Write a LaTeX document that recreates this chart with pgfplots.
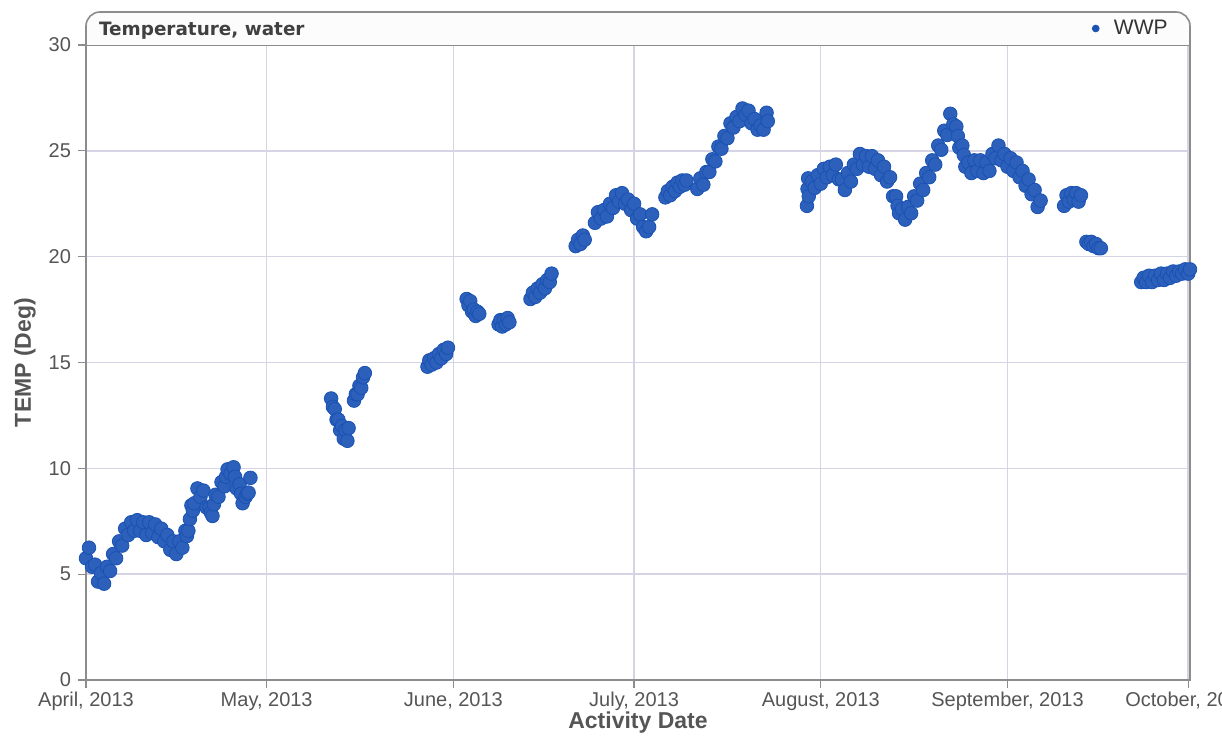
\documentclass[border=0pt]{standalone}
\usepackage{fontspec}
\setmainfont{Liberation Sans}
\newfontfamily\titlefont{DejaVu Sans}
\usepackage{pgfplots}
\pgfplotsset{compat=1.18}
\definecolor{ptblue}{RGB}{26,82,180}
\definecolor{gridc}{RGB}{212,212,228}
\definecolor{axc}{RGB}{140,140,140}
\definecolor{txtc}{RGB}{85,85,85}
\definecolor{hdrc}{RGB}{252,252,252}

\pgfplotstableread{
d T
0.0 5.75
0.5 6.25
1.0 5.35
1.5 5.45
2.0 4.65
2.5 5.05
3.0 4.55
3.5 5.35
4.0 5.15
4.5 5.95
5.0 5.75
5.5 6.55
6.0 6.35
6.5 7.15
7.0 6.85
7.5 7.45
8.0 7.05
8.5 7.55
9.0 7.05
9.5 7.45
10.0 6.85
10.5 7.45
11.0 6.95
11.5 7.35
12.0 6.75
12.5 7.15
13.0 6.55
13.5 6.85
14.0 6.15
14.5 6.55
15.0 5.95
15.5 6.55
16.0 6.25
16.5 7.05
16.75 6.8
17.0 7.05
17.25 7.6
17.5 8.25
17.75 8.0
18.0 8.35
18.5 9.05
19.0 8.65
19.5 8.95
20.0 8.15
20.5 8.15
20.75 7.9
21.0 7.75
21.25 8.3
21.5 8.75
22.0 8.65
22.5 9.35
23.0 9.15
23.25 9.6
23.5 9.95
24.0 9.75
24.5 10.05
24.75 9.6
25.0 9.05
25.5 9.25
25.75 8.8
26.0 8.35
26.5 8.65
26.75 8.8
27.0 8.85
27.3 9.55
40.7 13.3
41.0 12.9
41.3 12.8
41.6 12.3
41.9 12.3
42.2 11.8
42.5 12.0
42.8 11.4
43.1 11.8
43.4 11.3
43.6 11.9
44.5 13.2
44.8 13.5
45.1 13.5
45.4 13.9
45.7 13.8
46.0 14.3
46.3 14.5
56.7 14.8
57.0 15.1
57.4 14.9
57.8 15.2
58.2 15.0
58.6 15.4
59.0 15.2
59.4 15.6
59.8 15.4
60.1 15.7
63.2 18.0
63.5 17.7
63.8 17.9
64.1 17.4
64.4 17.5
64.7 17.2
65.0 17.4
65.3 17.3
68.5 16.8
68.8 17.0
69.1 16.7
69.4 17.0
69.7 16.8
70.0 17.1
70.3 16.9
73.8 18.0
74.2 18.3
74.6 18.1
75.0 18.5
75.4 18.3
75.8 18.7
76.2 18.5
76.6 18.9
77.0 18.8
77.3 19.2
81.3 20.5
81.7 20.8
82.1 20.6
82.5 21.0
82.8 20.8
84.5 21.6
85.0 22.1
85.5 21.8
86.0 22.2
86.5 21.9
87.0 22.5
87.5 22.3
88.0 22.9
88.5 22.6
89.0 23.0
89.5 22.5
90.0 22.7
90.5 22.2
91.0 22.5
91.5 21.8
92.0 22.0
92.5 21.4
93.0 21.2
93.5 21.4
94.0 22.0
96.2 22.8
96.6 23.1
97.0 22.9
97.4 23.3
97.8 23.1
98.2 23.5
98.6 23.3
99.0 23.6
99.4 23.4
99.7 23.6
101.5 23.2
102.0 23.7
102.5 23.4
103.0 24.0
103.5 24.0
104.0 24.6
104.5 24.5
105.0 25.2
105.5 25.1
106.0 25.7
106.5 25.6
107.0 26.3
107.5 26.1
108.0 26.6
108.5 26.4
109.0 27.0
109.5 26.7
110.0 26.9
110.5 26.3
111.0 26.5
111.5 26.0
112.0 26.2
112.5 26.0
113.0 26.8
113.2 26.4
119.7 22.4
119.8 23.2
119.9 23.7
120.0 22.85
120.5 23.55
121.0 23.25
121.5 23.85
122.0 23.45
122.5 24.15
123.0 23.75
123.5 24.25
124.0 23.85
124.5 24.35
125.0 23.65
125.5 23.65
126.0 23.15
126.5 23.95
127.0 23.55
127.5 24.35
128.0 24.15
128.5 24.85
129.0 24.35
129.5 24.75
130.0 24.25
130.5 24.75
131.0 24.15
131.5 24.55
132.0 23.85
132.5 24.25
133.0 23.55
133.5 23.75
134.0 22.85
134.5 22.85
134.75 22.4
135.0 22.05
135.5 22.25
136.0 21.75
136.5 22.35
137.0 22.05
137.5 22.85
138.0 22.65
138.5 23.45
139.0 23.15
139.5 23.95
140.0 23.75
140.5 24.55
141.0 24.35
141.5 25.25
142.0 25.05
142.5 25.95
143.0 25.75
143.5 26.75
144.0 26.25
144.5 26.15
144.75 25.7
145.0 25.15
145.5 25.25
145.75 24.8
146.0 24.25
146.5 24.45
147.0 23.95
147.5 24.55
148.0 24.05
148.5 24.55
149.0 23.95
149.5 24.45
150.0 24.05
150.5 24.85
151.0 24.65
151.5 25.25
152.0 24.55
152.5 24.85
153.0 24.25
153.5 24.65
154.0 24.05
154.5 24.45
155.0 23.75
155.5 24.05
156.0 23.35
156.5 23.65
157.0 22.95
157.5 23.15
158.0 22.35
158.5 22.65
162.4 22.4
162.8 22.9
163.2 22.6
163.6 23.0
164.0 22.7
164.4 23.0
164.8 22.6
165.2 22.9
166.1 20.7
166.5 20.6
166.9 20.7
167.3 20.5
167.7 20.6
168.1 20.4
168.5 20.4
175.2 18.8
175.6 19.0
176.0 18.8
176.5 19.1
177.0 18.8
177.5 19.1
178.0 18.9
178.5 19.2
179.0 18.9
179.5 19.2
180.0 19.0
180.5 19.3
181.0 19.1
181.5 19.3
182.0 19.2
182.5 19.4
183.0 19.2
183.3 19.4
}\wwp

\begin{document}
\begin{tikzpicture}
\begin{axis}[
  scale only axis, width=552pt, height=317.5pt,
  xmin=0, xmax=183.3, ymin=0, ymax=30,
  xtick={0,30,61,91,122,153,183},
  xticklabels={{April, 2013},{May, 2013},{June, 2013},{July, 2013},{August, 2013},{September, 2013},{October, 2013}},
  ytick={0,5,...,30},
  grid=major, major grid style={gridc, line width=0.7pt},
  axis line style={axc, line width=0.8pt},
  tick align=outside, major tick length=4pt,
  tick style={axc, line width=0.6pt},
  xtick pos=bottom, ytick pos=left,
  ticklabel style={font=\fontsize{10}{12}\selectfont, text=txtc},
  xticklabel style={yshift=1.5pt},
  /pgf/number format/assume math mode=true,
  xlabel={Activity Date}, ylabel={TEMP (Deg)},
  every axis x label/.style={at={(axis description cs:0.5,0)}, anchor=center, yshift=-21.5pt,
    font=\bfseries\fontsize{11.5}{13}\selectfont, text=txtc},
  every axis y label/.style={at={([xshift=-30.5pt]axis description cs:0,0.5)}, anchor=center, rotate=90,
    font=\bfseries\fontsize{11.5}{13}\selectfont, text=txtc},
  clip=false,
  legend style={at={([xshift=-8pt,yshift=8.25pt]rel axis cs:1,1)}, anchor=east, draw=none, fill=none,
    font=\fontsize{10.5}{12}\selectfont, text=black!80, inner sep=1pt},
  legend image code/.code={\path[draw=none] (0cm,0cm) -- (0.35cm,0cm); \fill[ptblue] (0.1cm,0cm) circle (1.7pt);},
]
\filldraw[draw=axc, fill=hdrc, line width=0.8pt, rounded corners=7pt]
  (rel axis cs:0,1) -- ([yshift=16.5pt]rel axis cs:0,1) -- ([yshift=16.5pt]rel axis cs:1,1) -- (rel axis cs:1,1);
\node[anchor=west, font=\titlefont\bfseries\fontsize{9.2}{11}\selectfont, text=black!75]
  at ([xshift=3pt,yshift=7pt]rel axis cs:0,1) {Temperature, water};
\addplot[only marks, mark=*, mark size=3.4pt, color=ptblue, mark options={fill=ptblue!92!white, line width=0.4pt}]
  table[x=d, y=T] {\wwp};
\addlegendentry{WWP}
\end{axis}
\pgfresetboundingbox
\path[use as bounding box] ([xshift=-43pt,yshift=-29pt]current axis.south west) rectangle ([xshift=16pt,yshift=22.5pt]current axis.north east);
\end{tikzpicture}
\end{document}
